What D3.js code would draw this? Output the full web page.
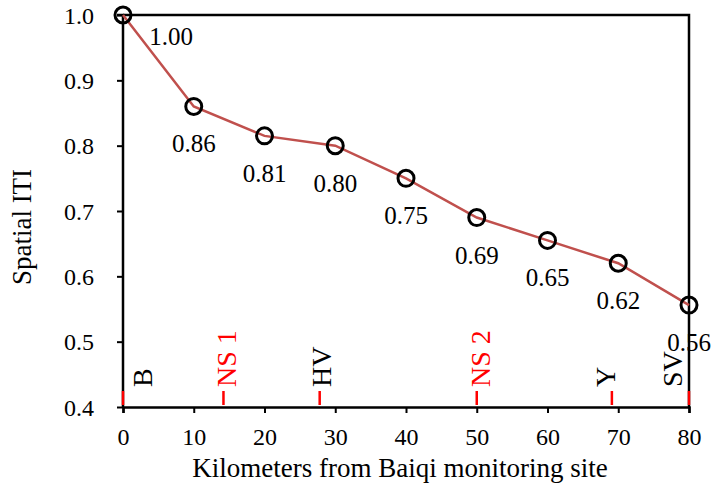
<!DOCTYPE html>
<html>
<head>
<meta charset="utf-8">
<script src="https://cdn.jsdelivr.net/npm/d3@7"></script>
<style>
  body { margin: 0; background: #fff; }
  text { font-family: "Liberation Serif", "Times New Roman", serif; }
</style>
</head>
<body>
<div id="chart"></div>
<script>
// data
const distanceKm = [0, 10, 20, 30, 40, 50, 60, 70, 80];
const spatialITI = [1.00, 0.86, 0.815, 0.80, 0.75, 0.69, 0.655, 0.62, 0.556];
const valueLabels = ['1.00', '0.86', '0.81', '0.80', '0.75', '0.69', '0.65', '0.62', '0.56'];

const siteNames = ['B', 'NS 1', 'HV', 'NS 2', 'Y', 'SV'];
const siteKm = [0, 14.2, 27.8, 50, 69.1, 80];

const yTicks = [0.4, 0.5, 0.6, 0.7, 0.8, 0.9, 1.0];
const xTicks = [0, 10, 20, 30, 40, 50, 60, 70, 80];

const W = 716, H = 487;
const margin = {top: 15, right: 27, bottom: 80, left: 123};
const width = W - margin.left - margin.right;
const height = H - margin.top - margin.bottom;

const svg = d3.select('#chart')
  .append('svg')
  .attr('width', W)
  .attr('height', H);

const g = svg.append('g')
  .attr('transform', `translate(${margin.left},${margin.top})`);

const x = d3.scaleLinear().domain([0, 80]).range([0, width]);
const y = d3.scaleLinear().domain([0.4, 1.0]).range([height, 0]);

// frame (top + right)
g.append('path')
  .attr('d', `M0,0H${width}V${height}`)
  .attr('fill', 'none')
  .attr('stroke', '#000')
  .attr('stroke-width', 2.5);

const yAxis = g.append('g')
  .call(d3.axisLeft(y).tickValues(yTicks).tickFormat(d3.format('.1f'))
    .tickSize(6).tickPadding(23));
const xAxis = g.append('g')
  .attr('transform', `translate(0,${height})`)
  .call(d3.axisBottom(x).tickValues(xTicks).tickSize(6).tickPadding(15));

[xAxis, yAxis].forEach(a => {
  a.select('.domain').attr('stroke', '#000').attr('stroke-width', 2.5);
  a.selectAll('.tick line').attr('stroke', '#000').attr('stroke-width', 2);
  a.selectAll('.tick text')
    .attr('fill', '#000')
    .style('font-size', '24px');
});
yAxis.select('.domain').attr('d', `M-6,0H0V${height}`);
yAxis.selectAll('.tick text').attr('dy', '0.34em');

// site markers along the x axis
const labelShift = [29, 13, 11, 13, 3, -7];
const siteColor = name => name.startsWith('NS') ? '#ff0000' : '#000';

g.append('g')
  .selectAll('line')
  .data(siteKm)
  .enter().append('line')
    .attr('x1', d => x(d))
    .attr('x2', d => x(d))
    .attr('y1', height - 16)
    .attr('y2', height - 2)
    .attr('stroke', '#ff0000')
    .attr('stroke-width', 2.5);

g.append('g')
  .selectAll('text')
  .data(siteNames)
  .enter().append('text')
    .attr('transform', (d, i) =>
      `translate(${x(siteKm[i]) + labelShift[i]},${height - 20}) rotate(-90)`)
    .attr('fill', d => siteColor(d))
    .style('font-size', '28px')
    .text(d => d);

// line + markers
const line = d3.line()
  .x((d, i) => x(distanceKm[i]))
  .y(d => y(d));

g.append('path')
  .datum(spatialITI)
  .attr('d', line)
  .attr('fill', 'none')
  .attr('stroke', '#c0504d')
  .attr('stroke-width', 2.5);

g.append('g')
  .selectAll('circle')
  .data(spatialITI)
  .enter().append('circle')
    .attr('cx', (d, i) => x(distanceKm[i]))
    .attr('cy', d => y(d))
    .attr('r', 8)
    .attr('fill', 'none')
    .attr('stroke', '#000')
    .attr('stroke-width', 3);

// value labels
g.append('g')
  .selectAll('text')
  .data(spatialITI)
  .enter().append('text')
    .attr('x', (d, i) => x(distanceKm[i]) + (i === 0 ? 48 : 0))
    .attr('y', (d, i) => y(d) + (i === 0 ? 30 : 46))
    .attr('text-anchor', 'middle')
    .style('font-size', '25px')
    .text((d, i) => valueLabels[i]);

// axis titles
svg.append('text')
  .attr('x', 400)
  .attr('y', 477)
  .attr('text-anchor', 'middle')
  .style('font-size', '27px')
  .text('Kilometers from Baiqi monitoring site');

svg.append('text')
  .attr('transform', 'translate(31,227) rotate(-90)')
  .attr('text-anchor', 'middle')
  .style('font-size', '27px')
  .text('Spatial ITI');
</script>
</body>
</html>
